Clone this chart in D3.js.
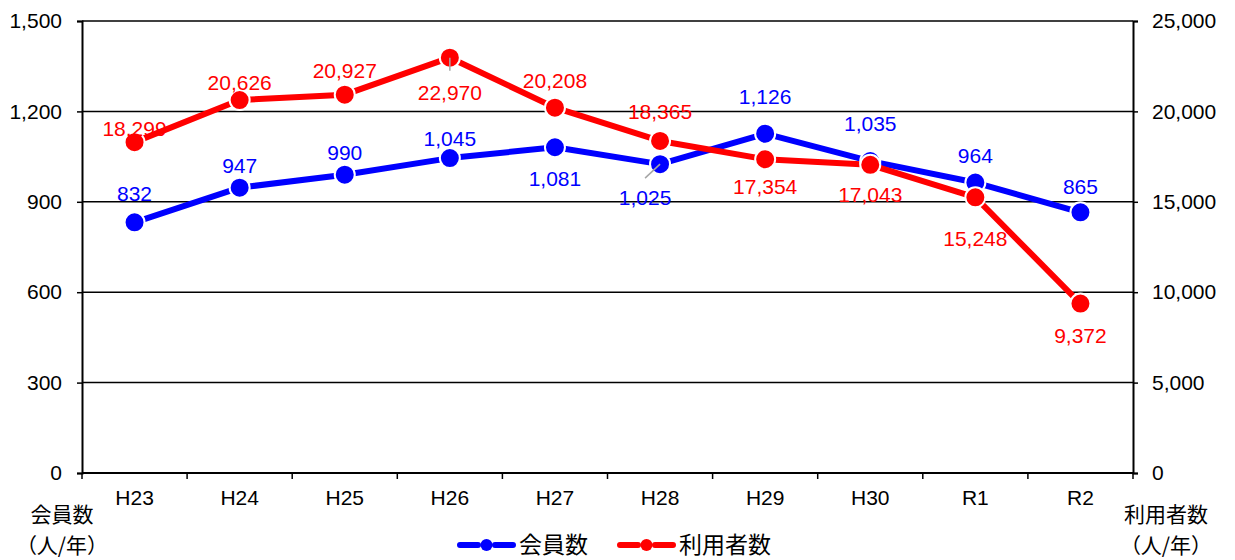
<!DOCTYPE html>
<html lang="ja">
<head>
<meta charset="utf-8">
<script src="https://cdn.jsdelivr.net/npm/d3@7/dist/d3.min.js"></script>
<style>
  html, body { margin: 0; padding: 0; background: #fff; }
  svg { display: block; }
  text { font-family: "Liberation Sans", Arial, "Noto Sans CJK JP", sans-serif; }
  .jp { font-family: "Noto Sans CJK JP", sans-serif; }
</style>
</head>
<body>
<svg id="chart" width="1235" height="560"></svg>
<script>
// 年度
const years = ["H23", "H24", "H25", "H26", "H27", "H28", "H29", "H30", "R1", "R2"];
// 会員数（人/年）
const members = [832, 947, 990, 1045, 1081, 1025, 1126, 1035, 964, 865];
// 利用者数（人/年）
const users = [18299, 20626, 20927, 22970, 20208, 18365, 17354, 17043, 15248, 9372];
// 軸目盛
const leftTicks = [0, 300, 600, 900, 1200, 1500];
const rightTicks = [0, 5000, 10000, 15000, 20000, 25000];
// ラベル位置（点からのずれ: dx, dy）
const memberLabelOffsets = [[0, -29], [0, -22], [0, -22], [0, -20], [0, 31], [-15, 33], [0, -37], [0, -38], [0, -27], [0, -26]];
const userLabelOffsets = [[0, -14], [0, -18], [0, -24], [0, 35], [0, -27], [0, -30], [0, 27], [0, 30], [0, 41], [0, 32]];

const svg = d3.select("#chart");
const margin = { left: 82, right: 102, top: 21, bottom: 87 };
const W = 1235, H = 560;
const x0 = margin.left, x1 = W - margin.right, y0 = H - margin.bottom, y1 = margin.top;

const x = d3.scaleBand().domain(years).range([x0, x1]);
const yL = d3.scaleLinear().domain([0, 1500]).range([y0, y1]);
const yR = d3.scaleLinear().domain([0, 25000]).range([y0, y1]);
const fmt = d3.format(",");

// 横グリッド線
svg.append("g").selectAll("line").data(leftTicks.slice(1)).join("line")
  .attr("x1", x0).attr("x2", x1)
  .attr("y1", d => yL(d)).attr("y2", d => yL(d))
  .attr("stroke", "#000").attr("stroke-width", 1.5);

// 左軸
const gL = svg.append("g").attr("transform", `translate(${x0},0)`)
  .call(d3.axisLeft(yL).tickValues(leftTicks).tickFormat(fmt).tickSize(5).tickPadding(15));
// 右軸
const gR = svg.append("g").attr("transform", `translate(${x1},0)`)
  .call(d3.axisRight(yR).tickValues(rightTicks).tickFormat(fmt).tickSize(5).tickPadding(14));
[gL, gR].forEach(g => {
  g.select(".domain").attr("stroke", "#000").attr("stroke-width", 2);
  g.selectAll(".tick line").attr("stroke", "#000").attr("stroke-width", 1.5);
  g.selectAll(".tick text").attr("font-size", 21).attr("fill", "#000")
    .style("font-family", '"Liberation Sans", Arial, sans-serif');
});

// 下軸（区切り目盛）
const gB = svg.append("g").attr("transform", `translate(0,${y0})`);
gB.append("line").attr("x1", x0).attr("x2", x1).attr("stroke", "#000").attr("stroke-width", 2);
const bounds = d3.range(years.length + 1).map(i => x0 + i * x.step());
gB.selectAll("line.tk").data(bounds).join("line").attr("class", "tk")
  .attr("x1", d => d).attr("x2", d => d).attr("y1", 0).attr("y2", 6)
  .attr("stroke", "#000").attr("stroke-width", 1.5);
gB.selectAll("text").data(years).join("text")
  .attr("x", d => x(d) + x.bandwidth() / 2).attr("y", 32)
  .attr("text-anchor", "middle").attr("font-size", 21).attr("fill", "#000")
  .text(d => d);

// 軸タイトル
const axisTitle = (cx, lines) => {
  lines.forEach((t, i) => svg.append("text").attr("class", "jp")
    .attr("x", cx).attr("y", 514 + i * 31).attr("dy", "0.36em").attr("text-anchor", "middle")
    .attr("font-size", 21).attr("fill", "#000").text(t));
};
axisTitle(62, ["会員数", "（人/年）"]);
axisTitle(1166, ["利用者数", "（人/年）"]);

const cx = d => x(d) + x.bandwidth() / 2;

function drawSeries(values, yScale, color) {
  const pts = values.map((v, i) => ({ year: years[i], v, i }));
  const line = d3.line().x(d => cx(d.year)).y(d => yScale(d.v));
  svg.append("path").datum(pts).attr("d", line)
    .attr("fill", "none").attr("stroke", color).attr("stroke-width", 6)
    .attr("stroke-linejoin", "round");
  return pts;
}

function drawMarkers(pts, yScale, color) {
  svg.append("g").selectAll("circle").data(pts).join("circle")
    .attr("cx", d => cx(d.year)).attr("cy", d => yScale(d.v)).attr("r", 10)
    .attr("fill", color).attr("stroke", "#fff").attr("stroke-width", 2);
}

function drawLabels(pts, yScale, color, offsets) {
  svg.append("g").selectAll("text").data(pts).join("text")
    .attr("x", d => cx(d.year) + offsets[d.i][0])
    .attr("y", d => yScale(d.v) + offsets[d.i][1])
    .attr("dy", "0.36em").attr("text-anchor", "middle")
    .attr("font-size", 21).attr("fill", color)
    .text(d => fmt(d.v));
}

const mPts = drawSeries(members, yL, "#0000ff");
const uPts = drawSeries(users, yR, "#ff0000");

// 引き出し線
const leader = (px, py, qx, qy) => svg.append("line")
  .attr("x1", px).attr("y1", py).attr("x2", qx).attr("y2", qy)
  .attr("stroke", "#a6a6a6").attr("stroke-width", 1.5);

drawMarkers(mPts, yL, "#0000ff");
drawMarkers(uPts, yR, "#ff0000");
leader(cx("H26"), yR(users[3]), cx("H26"), yR(users[3]) + 13);
leader(cx("H28"), yL(members[5]), cx("H28") - 15, yL(members[5]) + 14);
drawLabels(mPts, yL, "#0000ff", memberLabelOffsets);
drawLabels(uPts, yR, "#ff0000", userLabelOffsets);

// 凡例
const legend = [
  { name: "会員数", color: "#0000ff", x: 458 },
  { name: "利用者数", color: "#ff0000", x: 618 }
];
const lg = svg.append("g").selectAll("g").data(legend).join("g")
  .attr("transform", d => `translate(${d.x},545)`);
lg.append("line").attr("x1", 2).attr("x2", 55).attr("stroke", d => d.color)
  .attr("stroke-width", 6).attr("stroke-dasharray", "18,17,18")
  .attr("stroke-linecap", "round");
lg.append("circle").attr("cx", 28.5).attr("r", 6).attr("fill", d => d.color);
lg.append("text").attr("class", "jp").attr("x", 61).attr("y", 0).attr("dy", "0.36em")
  .attr("font-size", 23).attr("fill", "#000").text(d => d.name);
</script>
</body>
</html>
